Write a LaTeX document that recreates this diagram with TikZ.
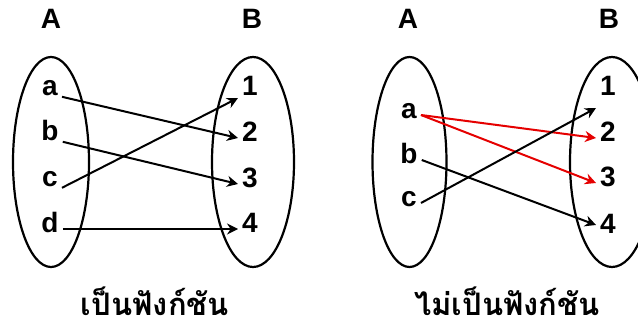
\documentclass[tikz,border=0pt]{standalone}
\usepackage{fontspec}
\setmainfont{Liberation Sans}
\newfontfamily\thaifont[Script=Thai]{Loma}
\usetikzlibrary{arrows.meta}
\tikzset{>={Stealth[length=11pt,width=11pt]},every node/.style={font=\fontsize{28}{30}\selectfont\bfseries,text height=.72em,text depth=0pt,inner ysep=1pt,inner xsep=4pt},
  set/.style={line width=2.2pt},map/.style={line width=2pt,->},bad/.style={map,red!90!black},
  caption/.style={font=\fontsize{31}{33}\selectfont\thaifont\bfseries,text height=.8em,text depth=.1em,inner sep=0pt}}
\begin{document}
\begin{tikzpicture}[x=1pt,y=-1pt]
\useasboundingbox (0,0) rectangle (638,329);
\clip (0,0) rectangle (638,329);
% first picture
\draw[set] (51,162) ellipse[x radius=38,y radius=105];
\draw[set] (253,162) ellipse[x radius=41,y radius=105];
\node (lA) at (51,25){A};\node (lB) at (252,25){B};
\node (la) at (50,92){a};\node (lb) at (50,137){b};\node (lc) at (50,183){c};\node (ld) at (50,229){d};
\node (l1) at (250,92){1};\node (l2) at (250,138){2};\node (l3) at (250,184){3};\node (l4) at (250,229){4};
\draw[map] (la.south east)--(l2.west);
\draw[map] (lb.south east)--(l3.west);
\draw[map] (lc.south east)--([yshift=-6pt]l1.west);
\draw[map] (ld.east)--(l4.west);
\node[caption] (lcap) at (155,312){เป็นฟังก์ชัน};
% second picture
\draw[set] (409.5,162) ellipse[x radius=37,y radius=105];
\draw[set] (612,162) ellipse[x radius=42,y radius=105];
\node (rA) at (408,25){A};\node (rB) at (609,25){B};
\node (ra) at (409,115){a};\node (rb) at (409,160){b};\node (rc) at (409,203){c};
\node (r1) at (608,92){1};\node (r2) at (608,138){2};\node (r3) at (608,183){3};\node (r4) at (608,230){4};
\draw[bad] (ra.east)--(r2.west);
\draw[bad] (ra.east)--(r3.west);
\draw[map] (rb.east)--([yshift=5pt]r4.west);
\draw[map] (rc.east)--([yshift=-16pt]r1.west);
\node[caption] (rcap) at (507,312){ไม่เป็นฟังก์ชัน};
\end{tikzpicture}
\end{document}
